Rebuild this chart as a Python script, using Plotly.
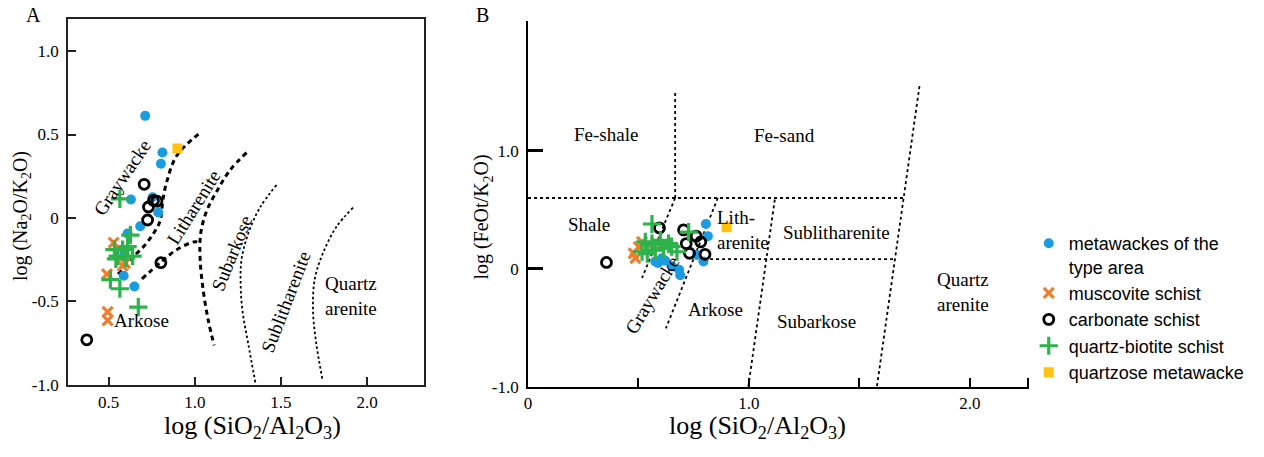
import plotly.graph_objects as go

W, H = 1264, 457

# ---------------- Panel A data: log(SiO2/Al2O3) vs log(Na2O/K2O) ----------------
a_meta_x = [0.712, 0.812, 0.803, 0.629, 0.755, 0.788, 0.683, 0.610, 0.591, 0.587, 0.649]
a_meta_y = [0.612, 0.392, 0.325, 0.111, 0.124, 0.033, -0.049, -0.093, -0.210, -0.346, -0.410]
a_musc_x = [0.529, 0.581, 0.595, 0.490, 0.494, 0.494]
a_musc_y = [-0.148, -0.287, -0.270, -0.336, -0.563, -0.614]
a_carb_x = [0.706, 0.760, 0.780, 0.731, 0.726, 0.803, 0.373]
a_carb_y = [0.202, 0.105, 0.101, 0.066, -0.012, -0.268, -0.730]
a_qb_x = [0.565, 0.626, 0.533, 0.610, 0.639, 0.552, 0.542, 0.600, 0.510, 0.565, 0.672, 0.581]
a_qb_y = [0.115, -0.103, -0.190, -0.171, -0.229, -0.229, -0.245, -0.239, -0.369, -0.424, -0.534, -0.190]
a_qm_x = [0.899]
a_qm_y = [0.416]

# Panel A field boundaries
a_b1_x = [1.021, 0.895, 0.837, 0.814, 0.799, 0.760, 0.703, 0.626, 0.548]
a_b1_y = [0.503, 0.373, 0.217, 0.101, -0.016, -0.093, -0.171, -0.249, -0.346]
a_b2_x = [0.693, 0.799, 0.895, 1.002, 1.030]
a_b2_y = [-0.365, -0.268, -0.190, -0.142, -0.150]
a_b3_x = [1.300, 1.204, 1.127, 1.069, 1.034, 1.031, 1.050, 1.079, 1.112]
a_b3_y = [0.392, 0.286, 0.159, 0.043, -0.093, -0.249, -0.443, -0.618, -0.763]
a_b4_x = [1.474, 1.378, 1.310, 1.271, 1.266, 1.277, 1.310, 1.352]
a_b4_y = [0.198, 0.062, -0.093, -0.249, -0.404, -0.559, -0.754, -0.990]
a_b5_x = [1.918, 1.821, 1.744, 1.696, 1.686, 1.705, 1.740]
a_b5_y = [0.062, -0.054, -0.210, -0.365, -0.559, -0.754, -0.963]

# ---------------- Panel B data: log(SiO2/Al2O3) vs log(FeOt/K2O) ----------------
b_meta_x = [0.805, 0.814, 0.588, 0.621, 0.651, 0.689, 0.684, 0.794, 0.764, 0.606, 0.576]
b_meta_y = [0.381, 0.278, 0.050, 0.069, 0.022, -0.053, -0.006, 0.063, 0.118, 0.091, 0.063]
b_musc_x = [0.478, 0.501, 0.516, 0.486, 0.550, 0.580]
b_musc_y = [0.132, 0.187, 0.229, 0.091, 0.200, 0.220]
b_carb_x = [0.595, 0.704, 0.761, 0.716, 0.782, 0.731, 0.801, 0.355]
b_carb_y = [0.348, 0.331, 0.278, 0.215, 0.229, 0.133, 0.124, 0.055]
b_qb_x = [0.561, 0.531, 0.561, 0.599, 0.636, 0.614, 0.576, 0.516, 0.540, 0.674, 0.727, 0.650]
b_qb_y = [0.381, 0.229, 0.215, 0.243, 0.215, 0.174, 0.160, 0.146, 0.130, 0.146, 0.312, 0.190]
b_qm_x = [0.899]
b_qm_y = [0.353]

# Panel B field boundaries
b_lines = [
    ([0.0, 1.701], [0.601, 0.601]),
    ([0.824, 1.659], [0.083, 0.083]),
    ([0.666, 0.666], [1.49, 0.601]),
    ([0.666, 0.516], [0.601, -0.075]),
    ([0.859, 0.624], [0.601, -0.503]),
    ([1.117, 0.997], [0.588, -1.0]),
    ([1.772, 1.579], [1.549, -1.0]),
]

series_names = ["metawackes of the<br>type area", "muscovite schist", "carbonate schist",
                "quartz-biotite schist", "quartzose metawacke"]

BLUE = "#1B9BE0"
ORANGE = "#F47B2A"
GREEN = "#2EB24B"
YELLOW = "#FFC20E"

styles = [
    dict(symbol="circle", size=10, color=BLUE, line=dict(width=0)),
    dict(symbol="x-thin", size=10, color=ORANGE, line=dict(width=3.2, color=ORANGE)),
    dict(symbol="circle-open", size=10, color="black", line=dict(width=2.8, color="black")),
    dict(symbol="cross-thin", size=13, color=GREEN, line=dict(width=3.2, color=GREEN)),
    dict(symbol="square", size=10, color=YELLOW, line=dict(width=0)),
]

fig = go.Figure()

# boundaries A
for bx, by, thick in [(a_b1_x, a_b1_y, True), (a_b2_x, a_b2_y, True), (a_b3_x, a_b3_y, True),
                      (a_b4_x, a_b4_y, False), (a_b5_x, a_b5_y, False)]:
    fig.add_trace(go.Scatter(
        x=bx, y=by, mode="lines", showlegend=False, hoverinfo="skip",
        line=dict(color="black", width=3 if thick else 1.8,
                  dash="5px,4px" if thick else "2.5px,2.5px", shape="spline"),
        xaxis="x", yaxis="y"))

# boundaries B
for bx, by in b_lines:
    fig.add_trace(go.Scatter(
        x=bx, y=by, mode="lines", showlegend=False, hoverinfo="skip",
        line=dict(color="black", width=1.8, dash="3px,3px"),
        xaxis="x2", yaxis="y2"))

a_sets = [(a_meta_x, a_meta_y), (a_musc_x, a_musc_y), (a_carb_x, a_carb_y), (a_qb_x, a_qb_y), (a_qm_x, a_qm_y)]
b_sets = [(b_meta_x, b_meta_y), (b_musc_x, b_musc_y), (b_carb_x, b_carb_y), (b_qb_x, b_qb_y), (b_qm_x, b_qm_y)]

for i, (name, st) in enumerate(zip(series_names, styles)):
    fig.add_trace(go.Scatter(x=a_sets[i][0], y=a_sets[i][1], mode="markers", name=name,
                             marker=st, xaxis="x", yaxis="y", showlegend=True))
for i, (name, st) in enumerate(zip(series_names, styles)):
    fig.add_trace(go.Scatter(x=b_sets[i][0], y=b_sets[i][1], mode="markers", name=name,
                             marker=st, xaxis="x2", yaxis="y2", showlegend=False))

SERIF = "Liberation Serif, Times New Roman, serif"
tickfont = dict(family=SERIF, size=17, color="black")

def px_x(p):
    return p / W

def px_y(p):
    return (H - p) / H

fig.update_layout(
    width=W, height=H, margin=dict(l=0, r=0, t=0, b=0),
    paper_bgcolor="white", plot_bgcolor="white",
    xaxis=dict(domain=[px_x(64.3), px_x(421.7)], range=[0.2646, 2.332],
               tickvals=[0.5, 1.0, 1.5, 2.0], ticktext=["0.5", "1.0", "1.5", "2.0"],
               ticks="inside", ticklen=8, tickwidth=1.5, tickcolor="#222",
               showline=True, linewidth=1.8, linecolor="#222", mirror=True,
               showgrid=False, zeroline=False, tickfont=tickfont, ticklabelstandoff=1),
    yaxis=dict(domain=[px_y(393.5), px_y(19.3)], range=[-1.0, 1.193],
               tickvals=[-1.0, -0.5, 0, 0.5, 1.0], ticktext=["-1.0", "-0.5", "0", "0.5", "1.0"],
               ticks="inside", ticklen=8, tickwidth=1.5, tickcolor="#222",
               showline=True, linewidth=1.8, linecolor="#222", mirror=True,
               showgrid=False, zeroline=False, tickfont=tickfont, ticklabelstandoff=4),
    xaxis2=dict(domain=[px_x(525.7), px_x(1028.3)], range=[0, 2.268], anchor="y2",
                tickvals=[0, 0.5, 1.0, 1.5, 2.0, 2.262], ticktext=["0", "", "1.0", "", "2.0", ""],
                ticks="inside", ticklen=9, tickwidth=2, tickcolor="black",
                showline=True, linewidth=1.8, linecolor="black",
                showgrid=False, zeroline=False, tickfont=tickfont, ticklabelstandoff=0),
    yaxis2=dict(domain=[px_y(395.7), px_y(21)], range=[-1.0, 2.104], anchor="x2",
                tickvals=[-1.0, 0, 1.0], ticktext=["-1.0", "0", "1.0"],
                ticks="inside", ticklen=15, tickwidth=2.5, tickcolor="black",
                showline=True, linewidth=1.8, linecolor="black",
                showgrid=False, zeroline=False, tickfont=tickfont, ticklabelstandoff=4),
    legend=dict(x=px_x(1028), y=px_y(230), xanchor="left", yanchor="top",
                font=dict(family="Liberation Sans, Arial, sans-serif", size=18, color="black"),
                bgcolor="rgba(0,0,0,0)", valign="top", tracegroupgap=0, itemwidth=30),
    showlegend=True,
)

lab = dict(family=SERIF, size=19, color="black")
ann = []

def pann(text, x, y, size, angle=0):
    ann.append(dict(text=text, x=px_x(x), y=px_y(y), xref="paper", yref="paper", showarrow=False,
                    xanchor="center", yanchor="middle", textangle=angle,
                    font=dict(family=SERIF, size=size, color="black")))

# panel letters
pann("A", 30, 15, 20)
pann("B", 480, 15, 20)
# axis titles
xt = "log (SiO<sub>2</sub>/Al<sub>2</sub>O<sub>3</sub>)"
pann(xt, 249, 437, 26)
pann(xt, 756, 437, 26)
pann("log (Na<sub>2</sub>O/K<sub>2</sub>O)", 17, 221, 20, -90)
pann("log (FeOt/K<sub>2</sub>O)", 480, 222, 20, -90)

# panel A field labels
for t, x, y, ang in [("Graywacke", 0.579, 0.242, -56), ("Litharenite", 0.992, 0.063, -58),
                     ("Subarkose", 1.213, -0.211, -68), ("Sublitharenite", 1.528, -0.499, -69),
                     ("Arkose", 0.693, -0.616, 0)]:
    ann.append(dict(text=t, x=x, y=y, xref="x", yref="y", showarrow=False, textangle=ang,
                    xanchor="center", yanchor="middle", font=lab))
ann.append(dict(text="Quartz<br>arenite", x=1.743, y=-0.467, xref="x", yref="y", showarrow=False,
                xanchor="left", yanchor="middle", align="left", font=lab))

# panel B field labels
for t, x, y, ang in [("Fe-shale", 0.355, 1.14, 0), ("Fe-sand", 1.162, 1.128, 0), ("Shale", 0.275, 0.373, 0),
                     ("Sublitharenite", 1.396, 0.307, 0), ("Arkose", 0.847, -0.345, 0),
                     ("Subarkose", 1.306, -0.448, 0), ("Graywacke", 0.564, -0.219, -59)]:
    ann.append(dict(text=t, x=x, y=y, xref="x2", yref="y2", showarrow=False, textangle=ang,
                    xanchor="center", yanchor="middle", font=lab))
ann.append(dict(text="Lith-<br>arenite", x=0.845, y=0.33, xref="x2", yref="y2", showarrow=False,
                xanchor="left", yanchor="middle", align="left", font=lab))
ann.append(dict(text="Quartz<br>arenite", x=1.967, y=-0.199, xref="x2", yref="y2", showarrow=False,
                xanchor="center", yanchor="middle", align="left", font=lab))

fig.update_layout(annotations=ann)
fig.write_html("out.html")
